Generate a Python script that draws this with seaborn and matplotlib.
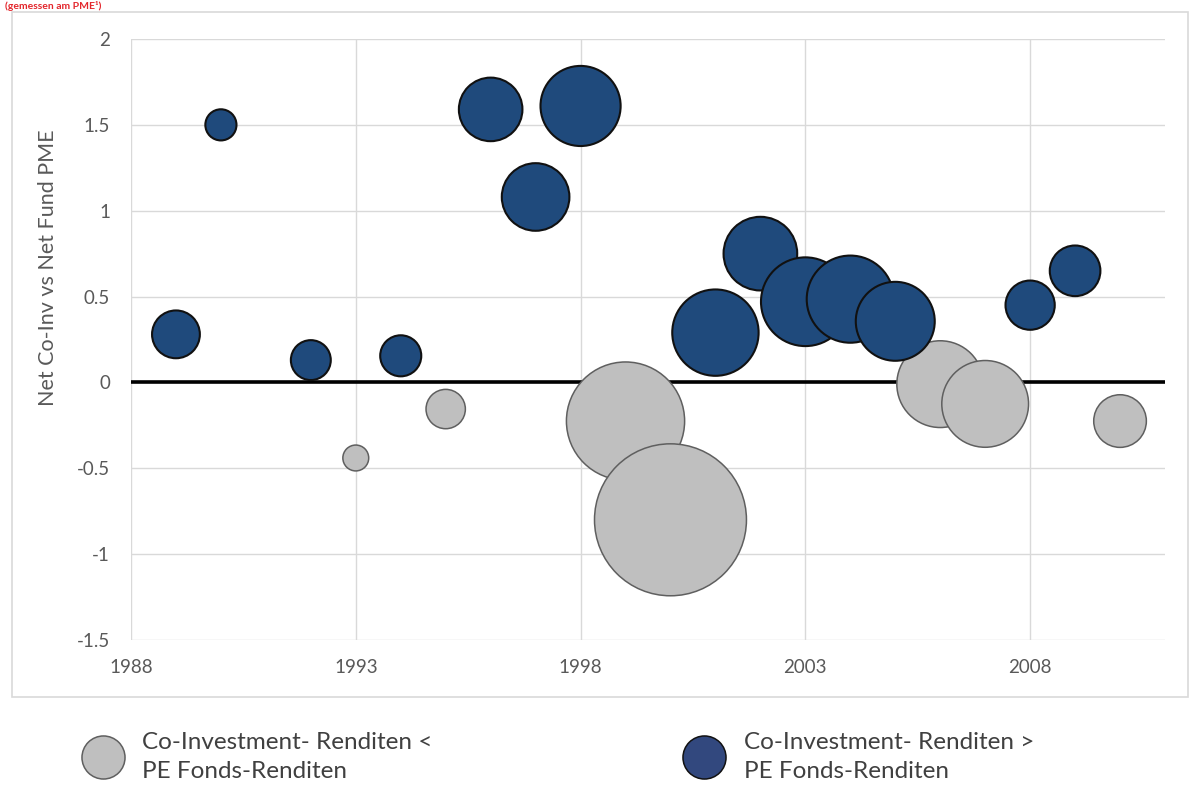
import matplotlib
matplotlib.use("Agg")
import matplotlib.pyplot as plt
import seaborn as sns
import pandas as pd
from matplotlib.lines import Line2D
from matplotlib.patches import Rectangle
from matplotlib.ticker import FuncFormatter, MultipleLocator

# ---- data ----
years = [1989, 1990, 1992, 1993, 1994, 1995, 1996, 1997, 1998, 1999, 2000,
         2001, 2002, 2003, 2004, 2005, 2006, 2007, 2008, 2009, 2010]
pme_diff = [0.28, 1.50, 0.13, -0.44, 0.155, -0.155, 1.59, 1.08, 1.61, -0.225, -0.80,
            0.29, 0.75, 0.47, 0.485, 0.356, -0.01, -0.125, 0.45, 0.65, -0.225]
bubble = [9.9, 4.2, 6.9, 2.9, 7.3, 6.7, 17.5, 19.8, 27.8, 60.5, 100.0,
          32.3, 23.5, 34.1, 32.9, 27.0, 32.6, 32.6, 10.5, 11.1, 12.0]
label_lo = "Co-Investment- Renditen <\nPE Fonds-Renditen"
label_hi = "Co-Investment- Renditen >\nPE Fonds-Renditen"
title_text = "(gemessen am PME\u00b9)"
y_label = "Net Co-Inv vs Net Fund PME"
x_ticks = [1988, 1993, 1998, 2003, 2008]

df = pd.DataFrame({"year": years, "pme": pme_diff, "bubble": bubble})
df["group"] = ["hi" if v > 0 else "lo" for v in df["pme"]]

BLUE = "#1F4A7C"
GRAY = "#BFBFBF"
GRAY_EDGE = "#5F5F5F"
TXT = "#595959"

sns.set_theme(style="white")
plt.rcParams["font.family"] = ["Lato", "DejaVu Sans"]
plt.rcParams["axes.unicode_minus"] = False

fig = plt.figure(figsize=(12, 7.85), dpi=100)
ax = fig.add_axes([131 / 1200, 1 - 640 / 785, (1165 - 131) / 1200, (640 - 39) / 785])

SMAX = 11970
common = dict(x="year", y="pme", size="bubble", sizes=(0, SMAX), size_norm=(0, 100),
              legend=False, ax=ax)
sns.scatterplot(data=df[df.group == "lo"], color=GRAY, edgecolor=GRAY_EDGE,
                linewidth=1.1, zorder=3, **common)
sns.scatterplot(data=df[df.group == "hi"], color=BLUE, edgecolor="#111111",
                linewidth=1.5, zorder=4, **common)

ax.axhline(0, color="black", lw=2.6, zorder=2)

ax.set_xlim(1988, 2011)
ax.set_ylim(-1.5, 2)
ax.set_xticks(x_ticks)
ax.yaxis.set_major_locator(MultipleLocator(0.5))
ax.yaxis.set_major_formatter(FuncFormatter(lambda v, p: f"{v:g}"))
ax.grid(True, color="#D9D9D9", lw=1, zorder=0)
ax.set_axisbelow(True)
for s in ax.spines.values():
    s.set_visible(False)
ax.tick_params(axis="y", length=4, color="#D9D9D9", pad=11, labelsize=13.5, labelcolor=TXT)
ax.tick_params(axis="x", length=0, pad=14, labelsize=13.5, labelcolor=TXT)
ax.set_xlabel("")
ax.set_ylabel(y_label, fontsize=15.5, color=TXT)
ax.yaxis.set_label_coords((58 - 131) / 1034, (640 - 268) / 601)

# outer chart frame
fig.patches.append(Rectangle((12 / 1200, 1 - 697 / 785), 1176 / 1200, 685 / 785,
                             transform=fig.transFigure, fill=False,
                             ec="#D9D9D9", lw=1.2, zorder=0))

# red heading at the top (only a sliver visible in the reference)
fig.text(5 / 1200, 1 - 1 / 785, title_text, color="#E3262C", fontsize=7.5,
         fontweight="bold", ha="left", va="top")

# legend below the chart
h_lo = Line2D([], [], marker="o", ls="", markersize=31, mfc=GRAY, mec=GRAY_EDGE, mew=1.1)
h_hi = Line2D([], [], marker="o", ls="", markersize=31, mfc="#32487E", mec="#111111", mew=1.1)
fs = 17.5
fs_px = fs / 0.72
hl = 2.4
hl_px = hl * fs_px
text_gap_px = 40.0  # from marker centre to text start
pad = (text_gap_px - hl_px / 2) / fs_px
for h, lab, cx in [(h_lo, label_lo, 102.5), (h_hi, label_hi, 703.5)]:
    leg = fig.legend([h], [lab], loc="center left",
                     bbox_to_anchor=((cx - hl_px / 2) / 1200, 1 - 757 / 785),
                     frameon=False, handlelength=hl, handletextpad=pad,
                     borderpad=0, borderaxespad=0, labelcolor="#404040",
                     prop={"size": fs})
    for t in leg.get_texts():
        t.set_linespacing(1.42)

fig.savefig("out.png", dpi=100)
